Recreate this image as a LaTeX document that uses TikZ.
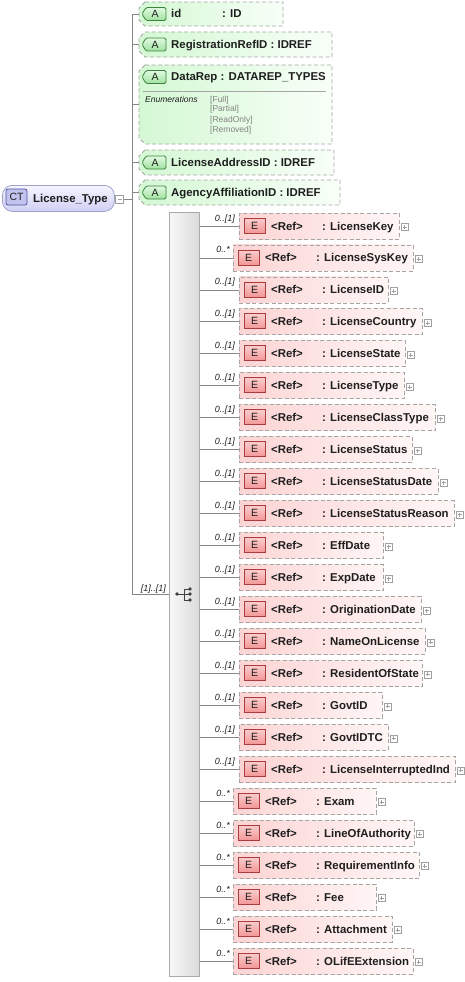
\documentclass[tikz,border=0pt]{standalone}
\usepackage{fontspec}
\setmainfont{Liberation Sans}
\definecolor{linec}{RGB}{135,135,135}
\definecolor{dashc}{RGB}{165,165,165}
\definecolor{txtc}{RGB}{30,30,30}
\definecolor{elL}{RGB}{252,212,212}
\definecolor{elR}{RGB}{255,246,246}
\definecolor{atL}{RGB}{212,248,212}
\definecolor{atR}{RGB}{248,255,248}
\definecolor{Ebd}{RGB}{170,60,60}
\definecolor{Etop}{RGB}{252,205,205}
\definecolor{Ebot}{RGB}{242,150,150}
\definecolor{Abd}{RGB}{60,130,60}
\definecolor{Atop}{RGB}{225,250,225}
\definecolor{Abot}{RGB}{160,225,160}
\definecolor{pbc}{RGB}{160,160,160}
\definecolor{ctbd}{RGB}{160,160,200}
\definecolor{ctT}{RGB}{245,245,255}
\definecolor{ctB}{RGB}{208,208,245}
\definecolor{ctbd2}{RGB}{80,80,160}
\definecolor{ctfill}{RGB}{195,195,240}
\definecolor{seqL}{RGB}{248,248,248}
\definecolor{seqR}{RGB}{218,218,218}
\definecolor{seqbd}{RGB}{170,170,170}
\definecolor{enumc}{RGB}{130,130,130}
\begin{document}
\begin{tikzpicture}[x=1pt,y=-1pt,
  conn/.style={draw=linec, line width=0.8pt},
  elbox/.style={draw=dashc, line width=0.8pt, dash pattern=on 4pt off 2.5pt, left color=elL, right color=elR, inner sep=0pt, minimum height=26pt, anchor=west},
  ebadge/.style={draw=Ebd, line width=0.8pt, top color=Etop, bottom color=Ebot, minimum width=21pt, minimum height=15pt, inner sep=0pt, font=\fontsize{10.5}{12}\selectfont, text=txtc},
  btxt/.style={inner sep=0pt, anchor=base west, font=\fontsize{11.4}{13}\selectfont\bfseries, text=txtc},
  multlab/.style={inner sep=0pt, anchor=base east, font=\fontsize{9}{11}\selectfont\itshape, text=txtc},
  pbox/.style={draw=pbc, fill=white, line width=0.6pt, minimum size=7pt, inner sep=0pt},
  attrshape/.style={draw=dashc, line width=0.8pt, dash pattern=on 4pt off 2.5pt, left color=atL, right color=atR},
  abadge/.style={draw=Abd, line width=0.8pt, top color=Atop, bottom color=Abot},
  enumtxt/.style={inner sep=0pt, anchor=base west, font=\fontsize{8.5}{10}\selectfont, text=enumc},
]
\useasboundingbox (0,0) rectangle (464,982);

% ---------- attributes ----------
\foreach \k/\xa/\ya/\xb/\yb/\hc in {1/139/2/283/26/14, 2/139/32/332/57/44.5, 3/139/65/332/144/77, 4/139/150/334/175/162.5, 5/139/180/340/205/192.5} {
  \pgfmathsetmacro\w{\xb-\xa}
  \pgfmathsetmacro\h{\yb-\ya}
  \node[inner sep=0pt, anchor=north west, minimum width=\w pt, minimum height=\h pt] (a\k) at (\xa,\ya) {};
  \path[attrshape] (\xa+6,\ya) -- (\xb,\ya) -- (\xb,\yb) -- (\xa+6,\yb) -- (\xa,\yb-6) -- (\xa,\ya+6) -- cycle;
  \path[abadge, rounded corners=1.5pt] (146,\hc-6.5) -- (166,\hc-6.5) -- (166,\hc+6.5) -- (146,\hc+6.5) -- (142,\hc) -- cycle;
  \node[inner sep=0pt, font=\fontsize{10.5}{12}\selectfont, text=txtc] (ab\k) at (155,\hc) {A};
}
\node[btxt] (t1) at (171,18) {id};
\node[btxt] (t1b) at (222,18) {: ID};
\node[btxt] (t2) at (171,48.5) {RegistrationRefID : IDREF};
\node[btxt] (t3) at (171,81) {DataRep : DATAREP\_TYPES};
\node[btxt] (t4) at (171,166.5) {LicenseAddressID : IDREF};
\node[btxt] (t5) at (171,196.5) {AgencyAffiliationID : IDREF};
\draw[draw=dashc, line width=0.8pt] (143,91) -- (326,91);
\node[inner sep=0pt, anchor=base west, font=\fontsize{8.5}{10}\selectfont\itshape, text=txtc] (enl) at (145,102) {Enumerations};
\node[enumtxt] (en1) at (210,102) {[Full]};
\node[enumtxt] (en2) at (210,111.5) {[Partial]};
\node[enumtxt] (en3) at (210,122) {[ReadOnly]};
\node[enumtxt] (en4) at (210,132) {[Removed]};

% ---------- complex type ----------
\node[draw=ctbd, line width=0.8pt, rounded corners=10pt, top color=ctT, bottom color=ctB, minimum width=112pt, minimum height=26pt, anchor=north west, inner sep=0pt] (ct) at (2,185) {};
\node[draw=ctbd2, line width=0.8pt, rounded corners=2pt, fill=ctfill, minimum width=21pt, minimum height=16pt, inner sep=0pt, font=\fontsize{10.5}{12}\selectfont, text=txtc] (ctb) at (16.5,197) {CT};
\node[btxt] (ctn) at (33,202) {License\_Type};
\node[pbox, minimum size=8pt] (mn) at (119.5,199) {};
\draw[draw=pbc, line width=0.6pt] ([xshift=-2pt]mn.center) -- ([xshift=2pt]mn.center);

% ---------- sequence ----------
\node[draw=seqbd, line width=0.8pt, left color=seqL, right color=seqR, minimum width=30pt, minimum height=764pt, anchor=north west, inner sep=0pt] (seq) at (169,212) {};
\coordinate (trk) at (132,0);
\draw[conn] (trk |- a1.west) -- (trk |- seq.west);
\foreach \k in {1,...,5} { \draw[conn] (trk |- a\k.west) -- (a\k.west); }
\draw[conn] (mn.east) -- (trk |- mn.east);
\draw[conn] (trk |- seq.west) -- (seq.west);
\node[multlab] (seqm) at (166,591) {[1]..[1]};
% sequence icon
\fill[black!75] (177,594) circle (1.8);
\draw[black!75, line width=0.9pt] (177,594) -- (184,594) (184,589) -- (184,600) (184,589) -- (190,589) (184,594) -- (190,594) (184,600) -- (190,600);
\fill[black!75] (190,589) circle (1.9) (190,594) circle (1.9) (190,600) circle (1.9);

% ---------- elements ----------
\foreach \i/\nm/\r/\s in {
  1/LicenseKey/399/0, 2/LicenseSysKey/413/1, 3/LicenseID/388/0, 4/LicenseCountry/422/0,
  5/LicenseState/405/0, 6/LicenseType/404/0, 7/LicenseClassType/435/0, 8/LicenseStatus/412/0,
  9/LicenseStatusDate/438/0, 10/LicenseStatusReason/454/0, 11/EffDate/383/0, 12/ExpDate/383/0,
  13/OriginationDate/421/0, 14/NameOnLicense/425/0, 15/ResidentOfState/422/0, 16/GovtID/382/0,
  17/GovtIDTC/388/0, 18/LicenseInterruptedInd/455/0, 19/Exam/376/1, 20/LineOfAuthority/414/1,
  21/RequirementInfo/419/1, 22/Fee/376/1, 23/Attachment/392/1, 24/OLifEExtension/413/1} {
  \pgfmathsetmacro\yc{226+31.96*(\i-1)}
  \pgfmathsetmacro\lft{\s==1 ? 233 : 239}
  \pgfmathsetmacro\w{\r-\lft}
  \draw[conn] (seq.east |- 0,\yc) -- (\lft,\yc);
  \node[elbox, minimum width=\w pt] (e\i) at (\lft,\yc) {};
  \node[ebadge] (b\i) at (\lft+15.5,\yc-0.5) {E};
  \node[btxt] (r\i) at (\lft+32,\yc+4) {<Ref>};
  \node[btxt] (n\i) at (\lft+83,\yc+4) {: \nm};
  \node[pbox] (p\i) at (\r+5.5,\yc+1) {};
  \draw[draw=pbc, line width=0.6pt] ([xshift=-2pt]p\i.center) -- ([xshift=2pt]p\i.center) ([yshift=-2pt]p\i.center) -- ([yshift=2pt]p\i.center);
  \ifnum\s=1
    \node[multlab] (m\i) at (\lft-3,\yc-5) {0..*};
  \else
    \node[multlab] (m\i) at (\lft-4,\yc-5) {0..[1]};
  \fi
}
\end{tikzpicture}
\end{document}
